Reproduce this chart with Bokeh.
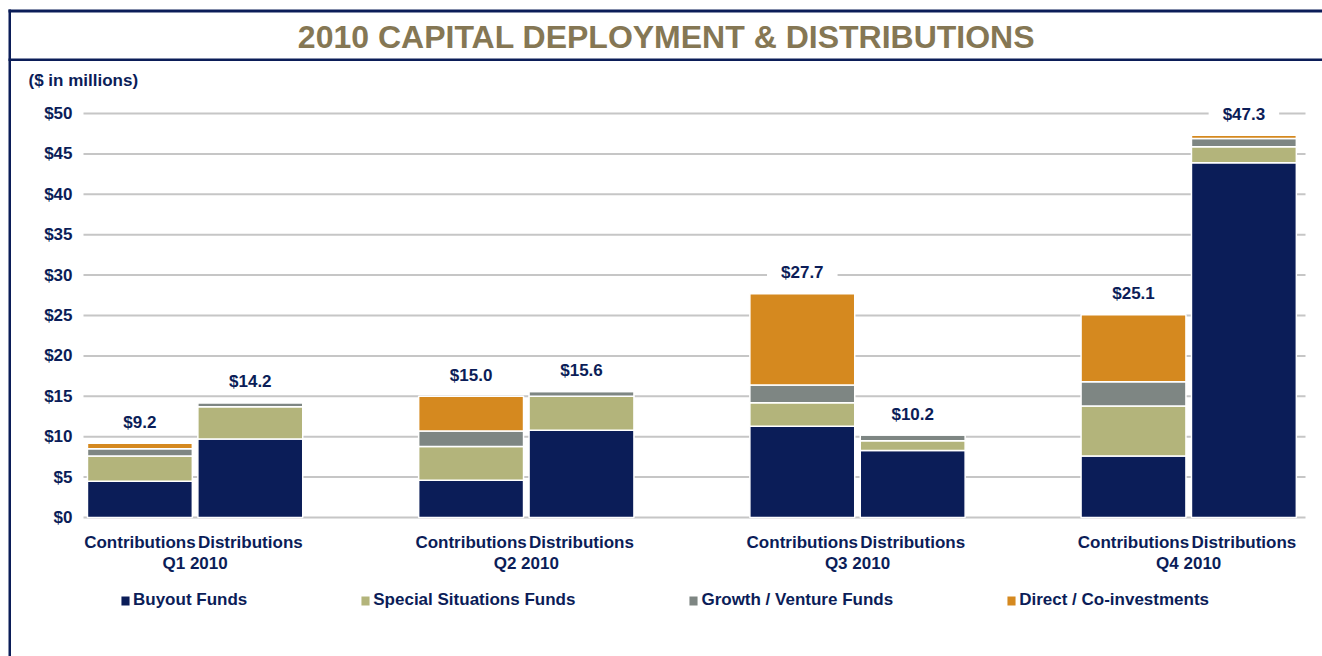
from bokeh.plotting import figure
from bokeh.models import (Range1d, ColumnDataSource, Legend, LegendItem,
                          Label, BoxAnnotation)
from bokeh.embed import file_html
from bokeh.resources import INLINE
from bokeh.core.properties import value

# ---------------- data ----------------
quarters = ["Q1 2010", "Q2 2010", "Q3 2010", "Q4 2010"]
flows = ["Contributions", "Distributions"]
series = ["Buyout Funds", "Special Situations Funds", "Growth / Venture Funds", "Direct / Co-investments"]
buyout = [4.5, 9.7, 4.6, 10.8, 11.3, 8.3, 7.6, 43.9]
special = [3.1, 4.0, 4.2, 4.2, 2.9, 1.2, 6.2, 2.0]
growth = [0.9, 0.5, 1.9, 0.6, 2.2, 0.7, 3.0, 1.0]
direct = [0.7, 0.0, 4.3, 0.0, 11.3, 0.0, 8.3, 0.4]
total_labels = ["$9.2", "$14.2", "$15.0", "$15.6", "$27.7", "$10.2", "$25.1", "$47.3"]
y_ticks = [0, 5, 10, 15, 20, 25, 30, 35, 40, 45, 50]
y_tick_labels = ["$0", "$5", "$10", "$15", "$20", "$25", "$30", "$35", "$40", "$45", "$50"]
title_text = "2010 CAPITAL DEPLOYMENT & DISTRIBUTIONS"
unit_text = "($ in millions)"

# ---------------- style / layout ----------------
NAVY = "#0B1D58"
COLORS = ["#0B1D58", "#B3B47B", "#7E8683", "#D5891F"]
TITLE_C = "#857754"
GRID_C = "#C6C6C6"
FONT = "Liberation Sans"

W, H = 1322, 656
GROUP = 3            # slots per quarter: 2 bars + 1 gap
UNIT_X = 110.4       # px per bar slot
X0_PX = 84.2         # px where x = 0
UNIT_Y = 8.08        # px per $1M
Y0_PX = 517          # px where y = 0
GRID_L, GRID_R = 83, 1305


def xd(px):
    return (px - X0_PX) / UNIT_X


def yd(py):
    return (Y0_PX - py) / UNIT_Y


xs = [qi * GROUP + fj + 0.5 for qi in range(len(quarters)) for fj in range(len(flows))]
qx = [qi * GROUP + len(flows) / 2 for qi in range(len(quarters))]
flow_text = [f for q in quarters for f in flows]
keys = ["buyout", "special", "growth", "direct"]
totals = [round(a + b + c + d, 1) for a, b, c, d in zip(buyout, special, growth, direct)]
src = ColumnDataSource(dict(x=xs, buyout=buyout, special=special, growth=growth,
                            direct=direct, total=totals, label=total_labels))

p = figure(width=W, height=H,
           x_range=Range1d(xd(0), xd(W)), y_range=Range1d(yd(H), yd(0)),
           x_axis_location=None, y_axis_location=None,
           output_backend="svg", toolbar_location=None, min_border=0)
p.outline_line_color = None
p.background_fill_color = "white"
p.border_fill_color = "white"
p.grid.visible = False

# gridlines
p.segment(x0=xd(GRID_L), x1=xd(GRID_R), y0=y_ticks, y1=y_ticks,
          line_color=GRID_C, line_width=2, level="underlay")

rs = p.vbar_stack(keys, x="x", width=0.95, source=src, color=COLORS,
                  line_color="white", line_width=1.5)

txt = dict(text_font=value(FONT), text_font_style="bold", text_font_size="17px",
           text_color=NAVY)

# totals above bars
p.text(x="x", y="total", text="label", source=src, text_align="center",
       text_baseline="middle", y_offset=-21, background_fill_color="white",
       padding=(14, 2), **txt)

# y tick labels
p.text(x=xd(72), y=y_ticks, text=y_tick_labels, text_align="right",
       text_baseline="middle", **txt)

# category labels
p.text(x=xs, y=yd(542), text=flow_text, text_align="center", text_baseline="middle", **txt)
p.text(x=qx, y=yd(563), text=quarters, text_align="center", text_baseline="middle", **txt)

legend = Legend(items=[LegendItem(label=s, renderers=[r]) for s, r in zip(series, rs)],
                orientation="horizontal", location=(119, H - 610),
                spacing=112, glyph_width=12, glyph_height=13, label_standoff=2,
                border_line_color=None, background_fill_alpha=0,
                label_text_font=FONT, label_text_font_style="bold",
                label_text_font_size="17px", label_text_color=NAVY,
                margin=0, padding=8)
p.add_layout(legend)

# border lines (screen px from bottom-left of the full-canvas frame)
for l, r, t, b in [(8, W, 9, 12), (8, W, 58, 60.5), (8, 10.5, 9, H)]:
    p.add_layout(BoxAnnotation(left=l, right=r, top=H - t, bottom=H - b,
                               left_units="screen", right_units="screen",
                               top_units="screen", bottom_units="screen",
                               fill_color=NAVY, fill_alpha=1, line_color=None))

p.add_layout(Label(x=666, y=H - 36, x_units="screen", y_units="screen",
                   text=title_text, text_font=FONT, text_font_style="bold",
                   text_font_size="32px", text_color=TITLE_C,
                   text_align="center", text_baseline="middle"))
p.add_layout(Label(x=28, y=H - 80, x_units="screen", y_units="screen",
                   text=unit_text, text_font=FONT, text_font_style="bold",
                   text_font_size="17px", text_color=NAVY,
                   text_align="left", text_baseline="middle"))

open("out.html", "w").write(file_html(p, INLINE))
